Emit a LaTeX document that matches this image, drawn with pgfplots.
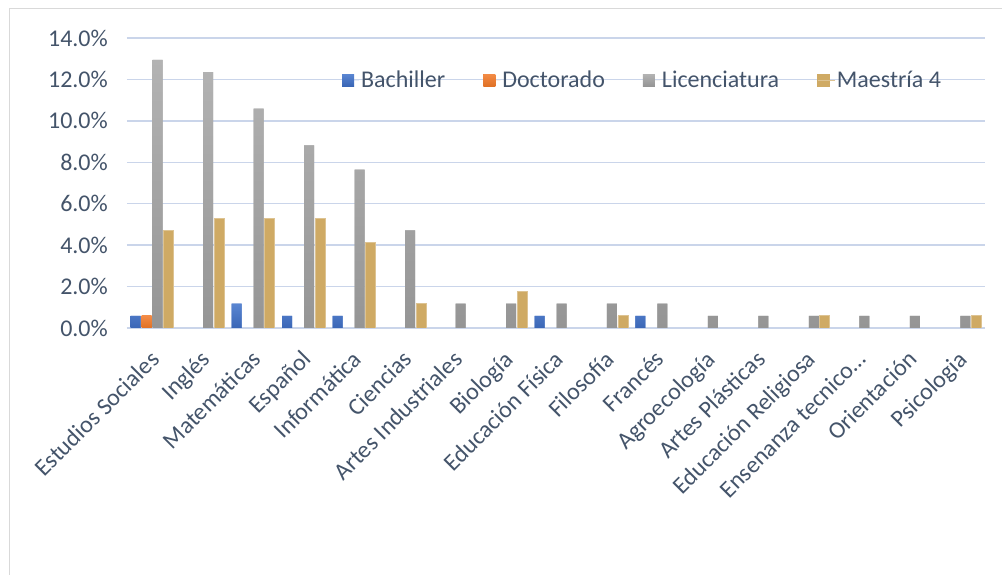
\documentclass[border=0pt]{standalone}
\usepackage{fontspec}
\setmainfont{Carlito}
\usepackage{pgfplots}
\pgfplotsset{compat=1.18}
\usepackage{pgfplotstable}

\definecolor{txt}{HTML}{44546A}
\definecolor{gridc}{HTML}{CAD5EA}
\definecolor{basec}{HTML}{D9D9D9}
\definecolor{cB}{HTML}{4472C4}
\definecolor{cBt}{HTML}{5A86D2}
\definecolor{cBb}{HTML}{3A66B6}
\definecolor{cD}{HTML}{ED7D31}
\definecolor{cDt}{HTML}{F38B46}
\definecolor{cDb}{HTML}{E07125}
\definecolor{cL}{HTML}{A5A5A5}
\definecolor{cLt}{HTML}{B3B3B3}
\definecolor{cLb}{HTML}{959595}
\definecolor{cM}{HTML}{CFAA64}

% values in percent; categories at 0..16
\pgfplotstableread{
x  bach  doct  lic    maes
0  0.59  0.59  12.94  4.71
1  0     0     12.35  5.29
2  1.18  0     10.59  5.29
3  0.59  0     8.82   5.29
4  0.59  0     7.65   4.12
5  0     0     4.71   1.18
6  0     0     1.18   0
7  0     0     1.18   1.76
8  0.59  0     1.18   0
9  0     0     1.18   0.59
10 0.59  0     1.18   0
11 0     0     0.59   0
12 0     0     0.59   0
13 0     0     0.59   0.59
14 0     0     0.59   0
15 0     0     0.59   0
16 0     0     0.59   0.59
}\data

\begin{document}
\begin{tikzpicture}
\begin{axis}[
  scale only axis, width=858pt, height=290pt,
  ybar=1pt, bar width=10pt,
  xmin=-0.5, xmax=16.5, ymin=0, ymax=14,
  xtick={0,...,16},
  xticklabels={Estudios Sociales, Inglés, Matemáticas, Español, Informática, Ciencias,
    Artes Industriales, Biología, Educación Física, Filosofía, Francés, Agroecología,
    Artes Plásticas, Educación Religiosa, Ensenanza tecnico…, Orientación, Psicologia},
  ytick={0,2,...,14},
  yticklabel={\pgfmathprintnumber[fixed,fixed zerofill,precision=1]{\tick}\%},
  /pgf/number format/assume math mode=true,
  major tick length=0pt,
  axis line style={draw=none},
  ymajorgrids, major grid style={gridc, line width=1.5pt},
  extra y ticks={0}, extra y tick labels={},
  extra y tick style={grid style={basec, line width=2pt}},
  ticklabel style={font=\fontsize{24}{28}\selectfont, text=txt},
  yticklabel style={inner sep=0pt, xshift=-19pt},
  xticklabel style={xshift=-3pt, yshift=-21pt, rotate=45, anchor=north east, inner sep=0pt},
  unbounded coords=discard,
  y filter/.expression={y==0 ? nan : y},
  legend columns=4,
  legend style={draw=none, fill=none, at={(0.247,0.855)}, anchor=west,
    font=\fontsize{24}{28}\selectfont, text=txt,
    /tikz/every even column/.append style={column sep=36pt}},
  legend cell align=left,
  sq/.style={draw=none, fill=#1,
    legend image code/.code={\fill[#1] (0pt,-6pt) rectangle (12pt,6pt);
      \path (0pt,0pt) -- (17pt,0pt);}},
]
\addplot[sq=cB, top color=cBt, bottom color=cBb] table[x=x, y=bach] {\data};
\addplot[sq=cD, top color=cDt, bottom color=cDb] table[x=x, y=doct] {\data};
\addplot[sq=cL, top color=cLt, bottom color=cLb] table[x=x, y=lic] {\data};
\addplot[sq=cM, draw=cM!70!white, line width=0.8pt] table[x=x, y=maes] {\data};
\legend{Bachiller, Doctorado, Licenciatura, Maestría 4}
\end{axis}
\draw[basec, line width=1pt] (-117pt,-260pt) -- (-117pt,319pt) -- (890pt,319pt);
\pgfresetboundingbox
\path[use as bounding box] (-127pt,-247pt) rectangle (875pt,328pt);
\end{tikzpicture}
\end{document}
